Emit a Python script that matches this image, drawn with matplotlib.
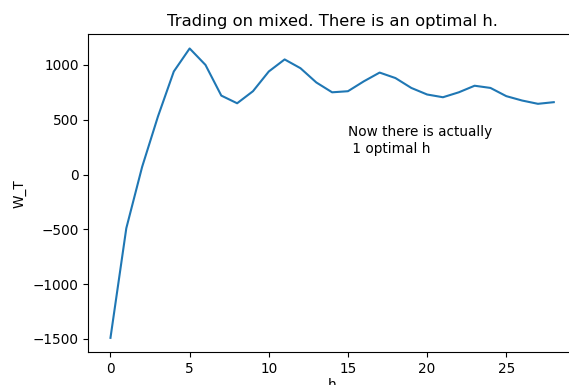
import matplotlib
matplotlib.use("Agg")
import matplotlib.pyplot as plt

# terminal wealth W_T for each holding period h
h = list(range(29))
W_T = [-1490, -490, 70, 530, 940, 1150, 1000, 720, 650, 760,
       940, 1050, 970, 840, 750, 760, 850, 930, 880, 790,
       730, 705, 750, 810, 790, 715, 675, 645, 660]

plt.rcParams['font.size'] = 9.8

fig = plt.figure(figsize=(5.69, 3.85), dpi=100)
ax = fig.add_axes([0.1552, 0.0849, 0.857, 0.8268])
ax.plot(h, W_T)
ax.set_title("Trading on mixed. There is an optimal h.")
ax.set_xlabel("h", labelpad=1.5)
ax.set_ylabel("W_T")
ax.text(15, 200, "Now there is actually\n 1 optimal h")

fig.savefig("out.png", dpi=100)
